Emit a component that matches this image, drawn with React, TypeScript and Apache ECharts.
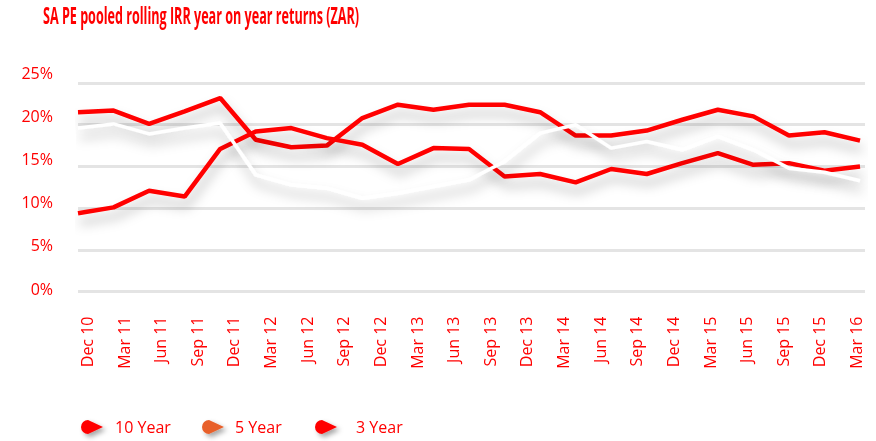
import React, { useEffect, useRef } from "react";
import * as echarts from "echarts";

const titleText = "SA PE pooled rolling IRR year on year returns (ZAR)";

// Axis tick labels (22 quarters)
const periods = [
  "Dec 10", "Mar 11", "Jun 11", "Sep 11", "Dec 11", "Mar 12", "Jun 12", "Sep 12",
  "Dec 12", "Mar 13", "Jun 13", "Sep 13", "Dec 13", "Mar 14", "Jun 14", "Sep 14",
  "Dec 14", "Mar 15", "Jun 15", "Sep 15", "Dec 15", "Mar 16",
];

const yTicks = [0, 5, 10, 15, 20, 25];

// Plotted series (23 points each, as drawn in the source)
const tenYear = [
  21.5, 21.7, 20.1, 21.6, 23.2, 18.2, 17.3, 17.5, 20.8, 22.4, 21.8, 22.4,
  22.4, 21.5, 18.7, 18.7, 19.3, 20.6, 21.8, 21.0, 18.7, 19.1, 18.1,
];
const fiveYear = [
  19.6, 20.1, 18.9, 19.6, 20.2, 14.0, 12.8, 12.4, 11.2, 11.8, 12.6, 13.4,
  15.6, 19.0, 20.0, 17.2, 18.0, 17.0, 18.6, 17.0, 14.8, 14.3, 13.3,
];
const threeYear = [
  9.4, 10.1, 12.1, 11.4, 17.1, 19.2, 19.6, 18.4, 17.6, 15.3, 17.2, 17.1,
  13.8, 14.1, 13.1, 14.7, 14.1, 15.4, 16.6, 15.2, 15.4, 14.5, 15.0,
];

const legendNames = ["10 Year", "5 Year", "3 Year"];

const RED = "#ff0000";
const ORANGE = "#e8602c";
const FONT = '"Open Sans", "Noto Sans", sans-serif';
const TITLE_FONT_FAMILY = '"Liberation Sans Narrow", "Open Sans", sans-serif';
const TITLE_SIZE = 23;

const toPairs = (arr: number[]) => arr.map((v, i) => [i, v]);

export default function App() {
  const ref = useRef<HTMLDivElement>(null);

  useEffect(() => {
    if (!ref.current) return;
    const chart = echarts.init(ref.current, undefined, { renderer: "svg" });

    let scaleX = 0.7;
    try {
      const c = document.createElement("canvas").getContext("2d");
      if (c) {
        c.font = `bold ${TITLE_SIZE}px ${TITLE_FONT_FAMILY}`;
        const w = c.measureText(titleText).width;
        if (w > 0) scaleX = 316 / w;
      }
    } catch (e) {}

    const lineShadow = {
      shadowColor: "rgba(0,0,0,0.28)",
      shadowBlur: 12,
      shadowOffsetX: 2,
      shadowOffsetY: 9,
    };

    const legendBase = {
      top: 419,
      padding: 0,
      itemWidth: 22,
      itemHeight: 14,
      icon: "path://M7,0 L22,7 L7,14 A7,7 0 0,1 7,0 Z",
      itemStyle: {
        shadowBlur: 5,
        shadowColor: "rgba(0,0,0,0.35)",
        shadowOffsetX: 3,
        shadowOffsetY: 3,
      },
    };
    const legendText = (pad: number) => ({
      color: RED,
      fontSize: 16,
      fontFamily: FONT,
      padding: [0, 0, 0, pad],
    });

    chart.setOption({
      animation: false,
      graphic: [
        {
          type: "text",
          x: 43,
          y: 15,
          scaleX,
          style: {
            text: titleText,
            fill: RED,
            fontSize: TITLE_SIZE,
            fontWeight: "bold",
            fontFamily: TITLE_FONT_FAMILY,
            align: "left",
            verticalAlign: "middle",
          },
        },
      ],
      grid: [
        { left: 78, right: 11, top: 83, bottom: 149.3 },
        { left: 87, right: 20, top: 73, bottom: 152.5 },
      ],
      xAxis: [
        {
          type: "value",
          gridIndex: 0,
          min: 0,
          max: tenYear.length - 1 + 0.14,
          show: false,
        },
        {
          type: "category",
          gridIndex: 1,
          data: periods,
          boundaryGap: false,
          axisLine: { show: false },
          axisTick: { show: false },
          splitLine: { show: false },
          axisLabel: {
            interval: 0,
            rotate: 90,
            margin: 28,
            color: RED,
            fontSize: 16,
            fontFamily: FONT,
          },
        },
      ],
      yAxis: [
        {
          type: "value",
          gridIndex: 0,
          min: yTicks[0],
          max: yTicks[yTicks.length - 1],
          interval: 5,
          axisLabel: { show: false },
          axisLine: { show: false },
          axisTick: { show: false },
          splitLine: { lineStyle: { color: "#e4e4e4", width: 3 } },
        },
        {
          type: "value",
          gridIndex: 1,
          min: yTicks[0],
          max: yTicks[yTicks.length - 1],
          interval: 5,
          axisLine: { show: false },
          axisTick: { show: false },
          splitLine: { show: false },
          axisLabel: {
            formatter: "{value}%",
            color: RED,
            fontSize: 16,
            fontFamily: FONT,
            margin: 34,
          },
        },
      ],
      legend: [
        {
          ...legendBase,
          left: 81,
          textStyle: legendText(7),
          data: [{ name: legendNames[0], itemStyle: { color: RED } }],
        },
        {
          ...legendBase,
          left: 202,
          textStyle: legendText(6),
          data: [{ name: legendNames[1], itemStyle: { color: ORANGE } }],
        },
        {
          ...legendBase,
          left: 315,
          textStyle: legendText(14),
          data: [{ name: legendNames[2], itemStyle: { color: RED } }],
        },
      ],
      series: [
        {
          name: legendNames[0],
          type: "line",
          xAxisIndex: 0,
          yAxisIndex: 0,
          data: toPairs(tenYear),
          symbol: "none",
          showSymbol: false,
          z: 2,
          itemStyle: { color: RED },
          lineStyle: { color: RED, width: 4.5, ...lineShadow },
        },
        {
          name: legendNames[1],
          type: "line",
          xAxisIndex: 0,
          yAxisIndex: 0,
          data: toPairs(fiveYear),
          symbol: "none",
          showSymbol: false,
          z: 4,
          itemStyle: { color: "#ffffff" },
          lineStyle: { color: "#ffffff", width: 3.5, ...lineShadow },
        },
        {
          name: legendNames[2],
          type: "line",
          xAxisIndex: 0,
          yAxisIndex: 0,
          data: toPairs(threeYear),
          symbol: "none",
          showSymbol: false,
          z: 3,
          itemStyle: { color: RED },
          lineStyle: { color: RED, width: 4.5, ...lineShadow },
        },
      ],
    });

    return () => chart.dispose();
  }, []);

  return (
    <div
      ref={ref}
      style={{ position: "fixed", left: 0, top: 0, width: 876, height: 441 }}
    />
  );
}
